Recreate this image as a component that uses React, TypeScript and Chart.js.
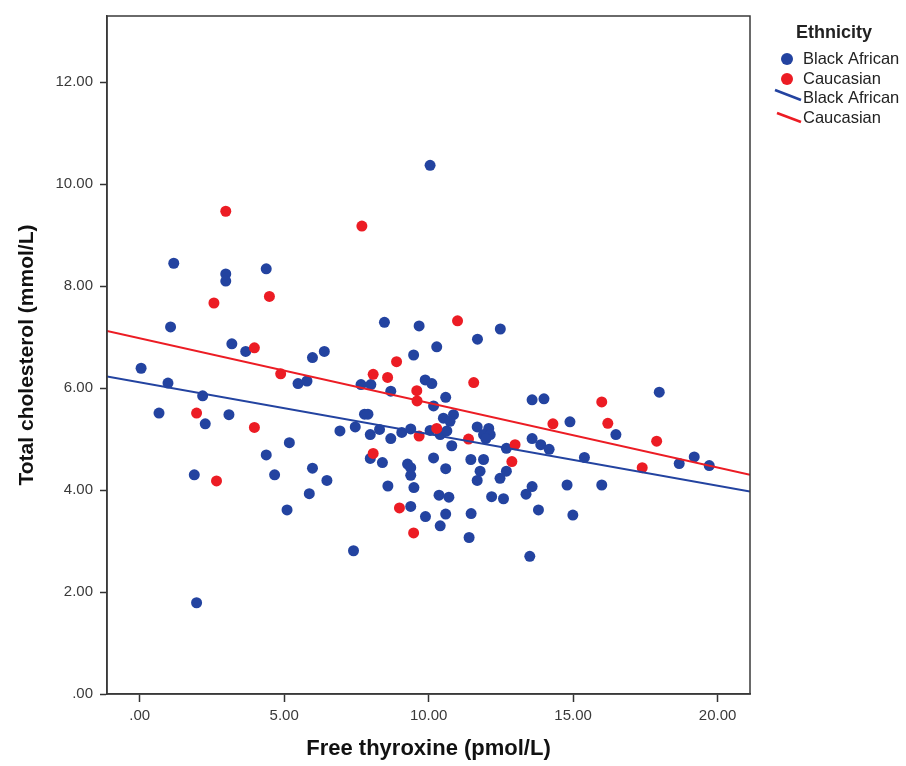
import React, { useEffect, useRef } from 'react';
import { Chart, registerables } from 'chart.js';

Chart.register(...registerables);

// Free thyroxine (pmol/L), Total cholesterol (mmol/L)
const blackAfricanData: [number, number][] = [
  [10.05, 10.37], [1.18, 8.45], [2.98, 8.24], [2.98, 8.10], [4.38, 8.34], [1.07, 7.20],
  [8.47, 7.29], [9.67, 7.22], [3.19, 6.87], [3.67, 6.72], [5.98, 6.60], [6.39, 6.72],
  [9.48, 6.65], [11.69, 6.96], [12.48, 7.16], [10.28, 6.81], [0.05, 6.39], [0.98, 6.10],
  [5.48, 6.09], [5.79, 6.14], [7.66, 6.07], [8.0, 6.07], [8.69, 5.94], [9.88, 6.16],
  [10.11, 6.09], [10.59, 5.82], [10.17, 5.65], [2.18, 5.85], [0.67, 5.51], [3.09, 5.48],
  [2.27, 5.30], [5.18, 4.93], [4.38, 4.69], [1.89, 4.30], [4.67, 4.30], [5.98, 4.43],
  [6.48, 4.19], [5.87, 3.93], [5.10, 3.61], [7.40, 2.81], [1.97, 1.79], [7.78, 5.49],
  [7.90, 5.49], [6.93, 5.16], [7.46, 5.24], [7.98, 5.09], [8.30, 5.19], [8.69, 5.01],
  [9.07, 5.13], [9.38, 5.20], [10.05, 5.17], [10.40, 5.09], [10.63, 5.16], [10.51, 5.41],
  [10.86, 5.48], [10.74, 5.35], [10.80, 4.87], [7.98, 4.62], [8.40, 4.54], [9.27, 4.51],
  [9.38, 4.44], [9.38, 4.29], [9.49, 4.05], [8.59, 4.08], [10.17, 4.63], [10.59, 4.42],
  [10.36, 3.90], [10.70, 3.86], [9.38, 3.68], [9.89, 3.48], [10.59, 3.53], [10.40, 3.30],
  [11.47, 3.54], [11.40, 3.07], [13.50, 2.70], [11.68, 5.24], [12.08, 5.21], [11.90, 5.09],
  [12.13, 5.09], [11.98, 5.01], [12.69, 4.82], [11.46, 4.60], [11.90, 4.60], [11.78, 4.37],
  [11.68, 4.19], [12.69, 4.37], [12.47, 4.23], [12.18, 3.87], [12.59, 3.83], [13.58, 5.77],
  [13.99, 5.79], [14.89, 5.34], [16.48, 5.09], [17.98, 5.92], [13.58, 5.01], [13.88, 4.89],
  [14.17, 4.80], [15.39, 4.64], [13.58, 4.07], [13.37, 3.92], [14.79, 4.10], [15.99, 4.10],
  [13.80, 3.61], [14.99, 3.51], [18.67, 4.52], [19.19, 4.65], [19.71, 4.48],
];

const caucasianData: [number, number][] = [
  [2.98, 9.47], [7.69, 9.18], [2.57, 7.67], [4.49, 7.80], [3.97, 6.79], [8.89, 6.52],
  [11.0, 7.32], [4.88, 6.28], [8.08, 6.27], [8.58, 6.21], [9.59, 5.95], [9.60, 5.75],
  [1.97, 5.51], [3.97, 5.23], [2.66, 4.18], [9.67, 5.06], [10.28, 5.21], [8.08, 4.72],
  [8.99, 3.65], [9.48, 3.16], [11.56, 6.11], [11.38, 5.00], [12.99, 4.89], [12.88, 4.56],
  [14.30, 5.30], [15.99, 5.73], [16.2, 5.31], [17.89, 4.96], [17.39, 4.44],
];

// Fit lines (endpoints at axis limits)
const fitX = [-1.13, 21.12];
const blackAfricanFitY = [6.23, 3.97];
const caucasianFitY = [7.12, 4.30];

const xTicks = [0, 5, 10, 15, 20];
const yTicks = [0, 2, 4, 6, 8, 10, 12];
const xRange = [-1.13, 21.12];
const yRange = [0, 13.3];

const legendTitle = 'Ethnicity';
const legendLabels = ['Black African', 'Caucasian', 'Black African', 'Caucasian'];

const BLUE = '#2343a0';
const RED = '#ec1c24';
const FONT = '"Liberation Sans", Arial, sans-serif';

const fmt = (v: number) => (v === 0 ? '.00' : v.toFixed(2));

export default function App() {
  const ref = useRef<HTMLCanvasElement | null>(null);

  useEffect(() => {
    if (!ref.current) return;

    const boxAndLegend = {
      id: 'boxAndLegend',
      afterDraw(chart: any) {
        const { ctx, chartArea } = chart;
        ctx.save();
        ctx.strokeStyle = '#3a3a3a';
        ctx.lineWidth = 1.5;
        ctx.strokeRect(chartArea.left, chartArea.top, chartArea.right - chartArea.left, chartArea.bottom - chartArea.top);

        ctx.textBaseline = 'middle';
        ctx.textAlign = 'left';
        ctx.fillStyle = '#222';
        ctx.font = `bold 18px ${FONT}`;
        ctx.fillText(legendTitle, 796, 33);

        ctx.font = `16.5px ${FONT}`;
        const rows = [59, 79, 98, 118];
        // circle markers
        ctx.fillStyle = BLUE;
        ctx.beginPath();
        ctx.arc(787, rows[0], 6, 0, Math.PI * 2);
        ctx.fill();
        ctx.fillStyle = RED;
        ctx.beginPath();
        ctx.arc(787, rows[1], 6, 0, Math.PI * 2);
        ctx.fill();
        // line markers
        ctx.lineWidth = 2.5;
        ctx.strokeStyle = BLUE;
        ctx.beginPath();
        ctx.moveTo(775, rows[2] - 8);
        ctx.lineTo(801, rows[2] + 2);
        ctx.stroke();
        ctx.strokeStyle = RED;
        ctx.beginPath();
        ctx.moveTo(777, rows[3] - 5);
        ctx.lineTo(801, rows[3] + 4);
        ctx.stroke();

        ctx.fillStyle = '#222';
        legendLabels.forEach((t, i) => ctx.fillText(t, 803, rows[i]));
        ctx.restore();
      },
    };

    const chart = new Chart(ref.current, {
      type: 'scatter',
      data: {
        datasets: [
          {
            label: 'Black African',
            data: blackAfricanData.map(([x, y]) => ({ x, y })),
            backgroundColor: BLUE,
            borderColor: BLUE,
            borderWidth: 0,
            pointRadius: 5.5,
            order: 3,
          },
          {
            label: 'Caucasian',
            data: caucasianData.map(([x, y]) => ({ x, y })),
            backgroundColor: RED,
            borderColor: RED,
            borderWidth: 0,
            pointRadius: 5.5,
            order: 2,
          },
          {
            type: 'line',
            label: 'Black African fit',
            data: fitX.map((x, i) => ({ x, y: blackAfricanFitY[i] })),
            borderColor: BLUE,
            borderWidth: 2,
            pointRadius: 0,
            fill: false,
            order: 1,
          },
          {
            type: 'line',
            label: 'Caucasian fit',
            data: fitX.map((x, i) => ({ x, y: caucasianFitY[i] })),
            borderColor: RED,
            borderWidth: 2,
            pointRadius: 0,
            fill: false,
            order: 0,
          },
        ] as any,
      },
      options: {
        animation: false,
        responsive: false,
        maintainAspectRatio: false,
        layout: { padding: { left: 0, right: 156, top: 12, bottom: 0 } },
        plugins: { legend: { display: false }, tooltip: { enabled: false } },
        scales: {
          x: {
            type: 'linear',
            min: xRange[0],
            max: xRange[1],
            afterBuildTicks: (s: any) => { s.ticks = xTicks.map((v) => ({ value: v })); },
            afterFit: (s: any) => { s.height = 72; },
            grid: { drawOnChartArea: false, drawTicks: true, tickLength: 8, tickColor: '#333', tickWidth: 1.5 },
            border: { display: true, color: '#3a3a3a', width: 1.5 },
            ticks: { color: '#3a3a3a', font: { family: FONT, size: 15 }, padding: 5, callback: (v: any) => fmt(Number(v)), maxRotation: 0 },
            title: { display: true, text: 'Free thyroxine (pmol/L)', color: '#111', font: { family: FONT, size: 22, weight: 'bold' }, padding: { top: 0, bottom: 4 } },
          },
          y: {
            type: 'linear',
            min: yRange[0],
            max: yRange[1],
            afterBuildTicks: (s: any) => { s.ticks = yTicks.map((v) => ({ value: v })); },
            afterFit: (s: any) => { s.width = 107; },
            grid: { drawOnChartArea: false, drawTicks: true, tickLength: 7, tickColor: '#333', tickWidth: 1.5 },
            border: { display: true, color: '#3a3a3a', width: 1.5 },
            ticks: { color: '#3a3a3a', font: { family: FONT, size: 15 }, padding: 7, callback: (v: any) => fmt(Number(v)) },
            title: { display: true, text: 'Total cholesterol (mmol/L)', color: '#111', font: { family: FONT, size: 21, weight: 'bold' }, padding: { top: 15, bottom: 0 } },
          },
        },
      },
      plugins: [boxAndLegend],
    } as any);

    return () => chart.destroy();
  }, []);

  return (
    <div style={{ position: 'fixed', left: 0, top: 0, width: 906, height: 766, background: '#fff' }}>
      <canvas ref={ref} width={906} height={766} style={{ width: 906, height: 766 }} />
    </div>
  );
}
